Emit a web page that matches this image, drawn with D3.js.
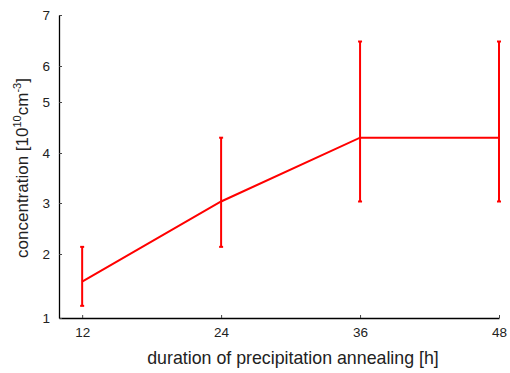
<!DOCTYPE html>
<html lang="en">
<head>
<meta charset="UTF-8">
<script src="https://cdn.jsdelivr.net/npm/d3@7"></script>
<style>
  body { margin: 0; background: #fff; }
  svg text { font-family: "Liberation Sans", Arial, sans-serif; fill: #222; }
</style>
</head>
<body>
<div id="chart"></div>
<script>
// annealing duration [h]
var hours = [12, 24, 36, 48];
// concentration and error bar limits [1e10 cm^-3]
var conc = [1.57, 3.03, 4.3, 4.3];
var concLow = [1.19, 2.14, 3.03, 3.03];
var concHigh = [2.14, 4.3, 6.48, 6.48];
var xTicks = [12, 24, 36, 48];
var yTicks = [1, 2, 3, 4, 5, 6, 7];

var width = 510, height = 373;
var svg = d3.select("#chart").append("svg")
    .attr("width", width).attr("height", height);

var x = d3.scaleLinear().domain([10, 48]).range([59, 499]);
// the original axis has hand-spaced tick positions, so a piecewise scale
var y = d3.scaleLinear().domain(yTicks).range([318, 254, 203, 153, 102, 66, 15]);

var xAxis = d3.axisBottom(x).tickValues(xTicks).tickFormat(d3.format("d"))
    .tickSizeInner(-3).tickSizeOuter(0).tickPadding(9);
var yAxis = d3.axisLeft(y).tickValues(yTicks).tickFormat(d3.format("d"))
    .tickSizeInner(-3).tickSizeOuter(0).tickPadding(9);

var gx = svg.append("g").attr("transform", "translate(0,318)").call(xAxis);
var gy = svg.append("g").attr("transform", "translate(59,0)").call(yAxis);
[gx, gy].forEach(function (g) {
  g.select(".domain").attr("stroke", "#000").attr("stroke-width", 1.3);
  g.selectAll(".tick line").attr("stroke", "#444");
  g.selectAll(".tick text").attr("font-size", 13.5).attr("fill", "#222");
});

var pts = hours.map(function (h, i) {
  return { h: h, v: conc[i], lo: concLow[i], hi: concHigh[i] };
});

svg.append("path").datum(pts)
  .attr("fill", "none").attr("stroke", "#ff0000").attr("stroke-width", 2)
  .attr("d", d3.line().x(function (d) { return x(d.h); }).y(function (d) { return y(d.v); }));

var eb = svg.append("g").attr("stroke", "#ff0000").attr("stroke-width", 2);
eb.selectAll(".bar").data(pts).enter().append("line")
  .attr("x1", function (d) { return x(d.h); }).attr("x2", function (d) { return x(d.h); })
  .attr("y1", function (d) { return y(d.lo); }).attr("y2", function (d) { return y(d.hi); });
eb.selectAll(".capLo").data(pts).enter().append("line")
  .attr("x1", function (d) { return x(d.h) - 2; }).attr("x2", function (d) { return x(d.h) + 2; })
  .attr("y1", function (d) { return y(d.lo); }).attr("y2", function (d) { return y(d.lo); });
eb.selectAll(".capHi").data(pts).enter().append("line")
  .attr("x1", function (d) { return x(d.h) - 2; }).attr("x2", function (d) { return x(d.h) + 2; })
  .attr("y1", function (d) { return y(d.hi); }).attr("y2", function (d) { return y(d.hi); });

// axis titles
svg.append("text").attr("x", 293).attr("y", 364).attr("text-anchor", "middle")
  .attr("font-size", 17.8).text("duration of precipitation annealing [h]");

var yl = svg.append("text").attr("transform", "translate(28,168) rotate(-90)")
  .attr("text-anchor", "middle").attr("font-size", 17);
yl.append("tspan").text("concentration [10");
yl.append("tspan").attr("font-size", 11).attr("dy", -7).text("10");
yl.append("tspan").attr("dy", 7).text("cm");
yl.append("tspan").attr("font-size", 11).attr("dy", -7).text("-3");
yl.append("tspan").attr("dy", 7).text("]");
</script>
</body>
</html>
